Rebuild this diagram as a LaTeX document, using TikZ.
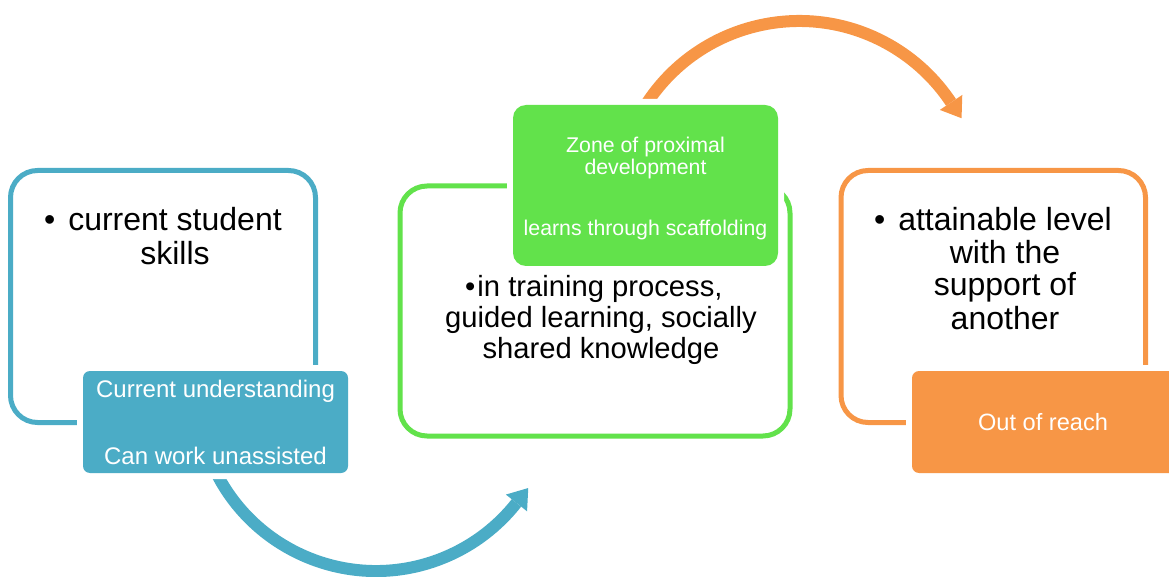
\documentclass[tikz,border=0pt]{standalone}
\usepackage{fontspec}
\setmainfont{Liberation Sans}
\usetikzlibrary{calc}
\definecolor{cblue}{RGB}{75,172,198}
\definecolor{corange}{RGB}{247,150,70}
\definecolor{cgreen}{RGB}{98,226,75}
\begin{document}
\begin{tikzpicture}[x=1pt,y=1pt,
  outline/.style={draw=#1, line width=5pt, rounded corners=27pt, inner sep=0pt, fill=white},
  fillbox/.style={fill=#1, draw=none, inner sep=0pt, preaction={draw=white, line width=12pt}},
  bigtxt/.style={anchor=base, inner sep=0pt, text=black, font=\fontsize{32}{34}\selectfont},
  midtxt/.style={anchor=base, inner sep=0pt, text=black, font=\fontsize{29.2}{30}\selectfont},
  wtxt/.style={anchor=base, inner sep=0pt, text=white, font=\fontsize{#1}{#1}\selectfont},
  arcline/.style={draw=#1, line width=12pt}
]
\useasboundingbox (0,0) rectangle (1169,576);
\clip (0,0) rectangle (1169,576);

% ---------- arrows (drawn first, under boxes) ----------
\coordinate (bc) at (376,184);
\coordinate (bstart) at ($(bc)+(203:179)$);
\coordinate (bend) at ($(bc)+(321.7:179)$);
\draw[arcline=cblue] (bstart) arc[start angle=203, end angle=321.7, radius=179];
\fill[cblue] ($(bc)+(321.7:165.5)$) -- ($(bc)+(321.7:192.5)$) -- ($(bend)+(51.7:19)$) -- cycle;

\coordinate (oc) at (799.2,372.7);
\coordinate (ostart) at ($(oc)+(150:182.3)$);
\coordinate (oend) at ($(oc)+(33.6:182.3)$);
\draw[arcline=corange] (ostart) arc[start angle=150, end angle=33.6, radius=182.3];
\fill[corange] ($(oc)+(33.6:168.8)$) -- ($(oc)+(33.6:195.8)$) -- ($(oend)+(-56.4:19)$) -- cycle;

% ---------- outline boxes ----------
\node[outline=cblue, minimum width=305pt, minimum height=252pt] (lbox) at (163,279.5) {};
\node[outline=cgreen, minimum width=390pt, minimum height=250pt] (cbox) at (595,265) {};
\node[outline=corange, minimum width=304.5pt, minimum height=252pt] (rbox) at (993.25,279.5) {};

% ---------- filled boxes ----------
\node[fillbox=cblue, rounded corners=7pt, minimum width=265pt, minimum height=102pt] (lfill) at (215.5,154) {};
\node[fillbox=cgreen, rounded corners=13pt, minimum width=265pt, minimum height=161pt] (cfill) at (645.5,390.5) {};
\node[fillbox=corange, rounded corners=7pt, minimum width=265pt, minimum height=102pt] (rfill) at (1044.5,154) {};

% ---------- texts: left ----------
\node[bigtxt] (l1) at (175,345.5) {\llap{•\hspace{13pt}}current student};
\node[bigtxt] (l2) at (175,311.5) {skills};
\node[wtxt=24] (lw1) at (215.5,178.5) {Current understanding};
\node[wtxt=24] (lw2) at (215.5,111.5) {Can work unassisted};

% ---------- texts: centre ----------
\node[midtxt] (c1) at (600,279) {\llap{•\hspace{2pt}}in training process,};
\node[midtxt] (c2) at (601,248) {guided learning, socially};
\node[midtxt] (c3) at (601,218) {shared knowledge};
\node[wtxt=21.3] (cw1) at (645.5,423.5) {Zone of proximal};
\node[wtxt=21.3] (cw2) at (645.5,401.5) {development};
\node[wtxt=21.3] (cw3) at (645.5,340.5) {learns through scaffolding};

% ---------- texts: right ----------
\node[bigtxt] (r1) at (1005,345) {\llap{•\hspace{13pt}}attainable level};
\node[bigtxt] (r2) at (1005,312) {with the};
\node[bigtxt] (r3) at (1005,280) {support of};
\node[bigtxt] (r4) at (1005,246) {another};
\node[wtxt=23.6] (rw1) at (1043,145.5) {Out of reach};
\end{tikzpicture}
\end{document}
